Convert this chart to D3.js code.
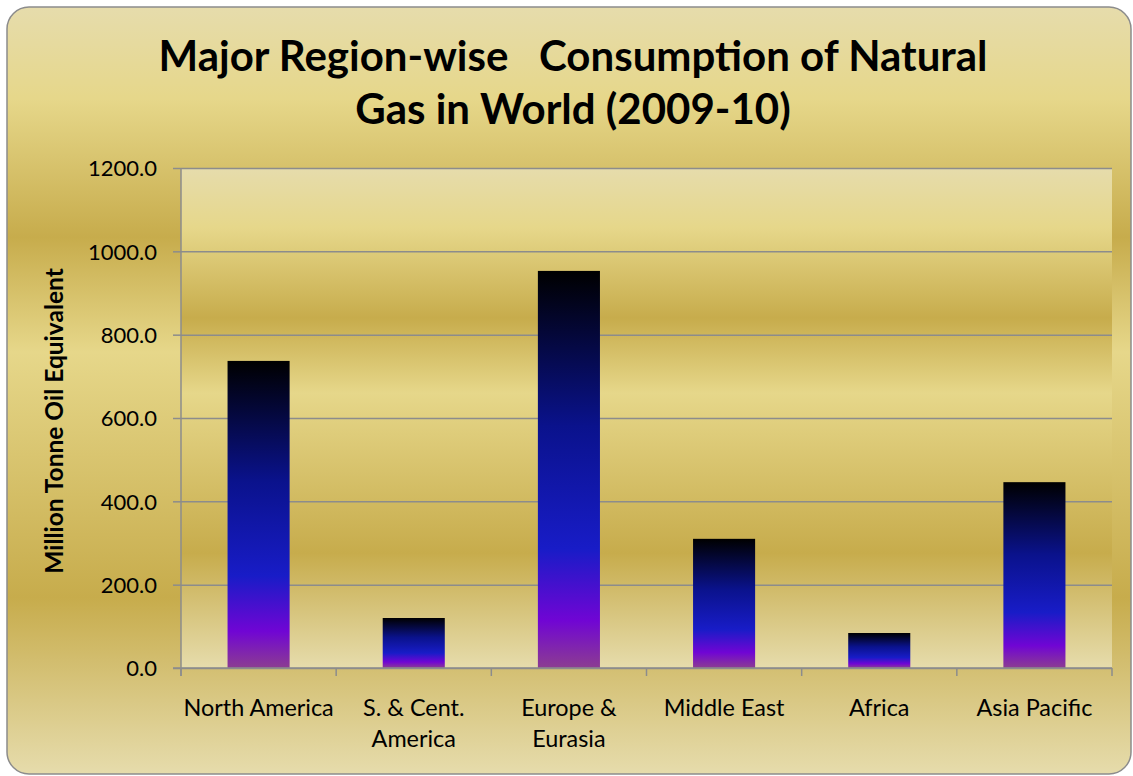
<!DOCTYPE html>
<html>
<head>
<meta charset="utf-8">
<script src="https://cdn.jsdelivr.net/npm/d3@7"></script>
<style>
  html, body { margin: 0; padding: 0; background: #fff; }
  svg text { font-family: Lato, "Open Sans", sans-serif; fill: #000; }
</style>
</head>
<body>
<svg id="chart" width="1133" height="776"></svg>
<script>
// data
var REGIONS = ['North America', 'S. & Cent. America', 'Europe & Eurasia', 'Middle East', 'Africa', 'Asia Pacific'];
var REGION_LABELS = [['North America'], ['S. & Cent.', 'America'], ['Europe &', 'Eurasia'], ['Middle East'], ['Africa'], ['Asia Pacific']];
var CONSUMPTION = [737, 120, 953, 310, 84, 446];
var Y_TICKS = [0, 200, 400, 600, 800, 1000, 1200];
var TITLE_LINES = ['Major Region-wise   Consumption of Natural', 'Gas in World (2009-10)'];
var Y_LABEL = 'Million Tonne Oil Equivalent';

// office style "gold" and "nightfall" fills
var GOLD_STOPS = [[0, '#e6dcac'], [0.12, '#e6d78a'], [0.30, '#c7ac4c'], [0.45, '#e6d78a'], [0.77, '#c7ac4c'], [1, '#e6dcac']];
var BAR_STOPS = [[0, '#000000'], [0.39, '#0a128c'], [0.70, '#181cc7'], [0.88, '#7005d4'], [1, '#8c3d91']];

var svg = d3.select('#chart');
var W = 1133, H = 776;
var margin = {top: 168, right: 21, bottom: 108, left: 181};
var plotW = W - margin.left - margin.right;
var plotH = H - margin.top - margin.bottom;
var GRID = '#8c8c8c';

var defs = svg.append('defs');
var addGradient = function(id, stops) {
  var g = defs.append('linearGradient').attr('id', id)
    .attr('x1', 0).attr('y1', 0).attr('x2', 0).attr('y2', 1);
  g.selectAll('stop').data(stops).enter().append('stop')
    .attr('offset', function(d) { return d[0]; })
    .attr('stop-color', function(d) { return d[1]; });
};
addGradient('gold', GOLD_STOPS);
addGradient('night', BAR_STOPS);

// chart frame
svg.append('rect')
  .attr('x', 7).attr('y', 7)
  .attr('width', 1124).attr('height', 767)
  .attr('rx', 22).attr('ry', 22)
  .attr('fill', 'url(#gold)')
  .attr('stroke', GRID).attr('stroke-width', 1.5);

// title
svg.append('text')
  .attr('text-anchor', 'middle')
  .style('font-size', '42px').style('font-weight', 'bold')
  .style('white-space', 'pre')
  .selectAll('tspan').data(TITLE_LINES).enter().append('tspan')
  .attr('x', 573)
  .attr('y', function(d, i) { return 71 + i * 53; })
  .text(function(d) { return d; });

var g = svg.append('g').attr('transform', 'translate(' + margin.left + ',' + margin.top + ')');

g.append('rect')
  .attr('width', plotW).attr('height', plotH)
  .attr('fill', 'url(#gold)');

var x = d3.scaleBand().domain(REGIONS).range([0, plotW])
  .paddingInner(0.6).paddingOuter(0.3);
var y = d3.scaleLinear().domain([0, 1200]).range([plotH, 0]);

// gridlines
g.append('g')
  .call(d3.axisLeft(y).tickValues(Y_TICKS).tickSize(-plotW).tickFormat(''))
  .call(function(s) {
    s.select('.domain').remove();
    s.selectAll('line').attr('stroke', GRID).attr('stroke-width', 1.5);
  });

// bars
g.selectAll('.bar').data(CONSUMPTION).enter().append('rect')
  .attr('class', 'bar')
  .attr('x', function(d, i) { return x(REGIONS[i]); })
  .attr('y', function(d) { return y(d); })
  .attr('width', x.bandwidth())
  .attr('height', function(d) { return plotH - y(d); })
  .attr('fill', 'url(#night)');

// y axis
g.append('g')
  .call(d3.axisLeft(y).tickValues(Y_TICKS).tickSize(8).tickSizeOuter(0).tickPadding(16)
    .tickFormat(d3.format('.1f')))
  .call(function(s) {
    s.select('.domain').attr('stroke', GRID).attr('stroke-width', 1.5)
      .attr('d', 'M0,0V' + (plotH + 8));
    s.selectAll('line').attr('stroke', GRID).attr('stroke-width', 1.5);
    s.selectAll('text').style('font-size', '22px').style('font-family', 'Lato, sans-serif')
      .attr('fill', '#000').attr('dy', '0.36em');
  });

// x axis line and ticks at category boundaries
g.append('line')
  .attr('x1', -8).attr('x2', plotW)
  .attr('y1', plotH).attr('y2', plotH)
  .attr('stroke', GRID).attr('stroke-width', 1.5);
var bounds = d3.range(REGIONS.length + 1).map(function(i) { return i * x.step(); });
g.selectAll('.xtick').data(bounds).enter().append('line')
  .attr('class', 'xtick')
  .attr('x1', function(d) { return d; }).attr('x2', function(d) { return d; })
  .attr('y1', plotH).attr('y2', plotH + 8)
  .attr('stroke', GRID).attr('stroke-width', 1.5);

// category labels
g.selectAll('.xlabel').data(REGION_LABELS).enter().append('text')
  .attr('class', 'xlabel')
  .attr('text-anchor', 'middle')
  .style('font-size', '23.4px')
  .each(function(lines, i) {
    var cx = x(REGIONS[i]) + x.bandwidth() / 2;
    d3.select(this).selectAll('tspan').data(lines).enter().append('tspan')
      .attr('x', cx)
      .attr('y', function(d, j) { return plotH + 48 + j * 31; })
      .text(function(d) { return d; });
  });

// y axis title
svg.append('text')
  .attr('transform', 'translate(63,421) rotate(-90)')
  .attr('text-anchor', 'middle')
  .style('font-size', '24.5px').style('font-weight', 'bold')
  .text(Y_LABEL);
</script>
</body>
</html>
